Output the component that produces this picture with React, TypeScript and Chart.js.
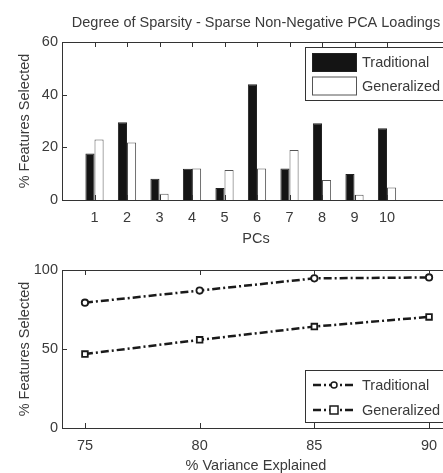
import React, { useEffect, useRef } from 'react';
import { Chart, registerables } from 'chart.js';
Chart.register(...registerables);

const pcs = [1, 2, 3, 4, 5, 6, 7, 8, 9, 10];
const traditionalPct = [17.7, 29.5, 8.1, 11.9, 4.6, 44, 12, 29.1, 9.9, 27.2];
const generalizedPct = [23, 21.8, 2.4, 12, 11.4, 12, 19, 7.6, 2, 4.7];
const barYTicks = [0, 20, 40, 60];

const varianceExplained = [75, 80, 85, 90];
const traditionalVar = [79.3, 87, 94.7, 95.3];
const generalizedVar = [46.8, 55.8, 64.2, 70.3];
const lineYTicks = [0, 50, 100];

const FONT = '"Liberation Sans", Arial, Helvetica, sans-serif';
const FS = 14.5;
const TEXT = '#3a3a3a';
const AXIS = '#333333';

const framePlugin = {
  id: 'frame',
  afterDraw(chart: any, _a: any, opts: any) {
    const { ctx, chartArea: a, scales } = chart;
    ctx.save();
    ctx.strokeStyle = AXIS;
    ctx.lineWidth = 1;
    ctx.strokeRect(Math.round(a.left) + 0.5, Math.round(a.top) + 0.5, Math.round(a.right - a.left), Math.round(a.bottom - a.top));
    const tl = 5;
    const line = (x1: number, y1: number, x2: number, y2: number) => {
      ctx.beginPath(); ctx.moveTo(x1, y1); ctx.lineTo(x2, y2); ctx.stroke();
    };
    scales.x.ticks.forEach((t: any) => {
      const px = Math.round(scales.x.getPixelForValue(t.value)) + 0.5;
      line(px, a.bottom, px, a.bottom - tl);
      line(px, a.top, px, a.top + tl);
    });
    scales.y.ticks.forEach((t: any) => {
      const py = Math.round(scales.y.getPixelForValue(t.value)) + 0.5;
      line(a.left, py, a.left + tl, py);
      line(a.right, py, a.right - tl, py);
    });
    ctx.fillStyle = TEXT;
    ctx.textAlign = 'center';
    ctx.textBaseline = 'middle';
    ctx.font = `${FS}px ${FONT}`;
    if (opts.title) ctx.fillText(opts.title, opts.titleX, opts.titleY);
    if (opts.xTitle) ctx.fillText(opts.xTitle, opts.xTitleX, opts.xTitleY);
    if (opts.yTitle) {
      ctx.save();
      ctx.translate(opts.yTitleX, (a.top + a.bottom) / 2);
      ctx.rotate(-Math.PI / 2);
      ctx.fillText(opts.yTitle, 0, 0);
      ctx.restore();
    }
    const lg = opts.legend;
    if (lg) {
      ctx.fillStyle = '#ffffff';
      ctx.fillRect(lg.x, lg.y, lg.w, lg.h);
      ctx.strokeStyle = AXIS;
      ctx.lineWidth = 1;
      ctx.strokeRect(lg.x + 0.5, lg.y + 0.5, lg.w, lg.h);
      chart.data.datasets.forEach((ds: any, i: number) => {
        const cy = lg.y + lg.firstY + i * lg.rowH;
        if (lg.kind === 'bar') {
          ctx.fillStyle = ds.backgroundColor;
          ctx.fillRect(lg.x + 7, cy - 9, 44, 18);
          ctx.strokeStyle = ds.borderColor;
          ctx.lineWidth = 1;
          ctx.strokeRect(lg.x + 7.5, cy - 8.5, 44, 18);
        } else {
          ctx.strokeStyle = ds.borderColor;
          ctx.lineWidth = ds.borderWidth;
          ctx.setLineDash(ds.borderDash);
          line(lg.x + 8, cy, lg.x + 48, cy);
          ctx.setLineDash([]);
          ctx.lineWidth = 1.5;
          ctx.fillStyle = '#ffffff';
          const mx = lg.x + 29;
          if (ds.pointStyle === 'rect') {
            ctx.fillRect(mx - 4, cy - 4, 8, 8);
            ctx.strokeRect(mx - 4, cy - 4, 8, 8);
          } else {
            ctx.beginPath(); ctx.arc(mx, cy, 3, 0, Math.PI * 2); ctx.fill(); ctx.stroke();
          }
        }
        ctx.fillStyle = TEXT;
        ctx.textAlign = 'left';
        ctx.font = `${FS}px ${FONT}`;
        ctx.fillText(ds.label, lg.x + lg.textX, cy + 1);
      });
    }
    ctx.restore();
  },
};

const tickFont = { family: FONT, size: FS };

function BarChart() {
  const ref = useRef<HTMLCanvasElement>(null);
  useEffect(() => {
    const chart = new Chart(ref.current!, {
      type: 'bar',
      data: {
        datasets: [
          {
            label: 'Traditional',
            data: pcs.map((p, i) => ({ x: p, y: traditionalPct[i] })),
            backgroundColor: '#141414',
            borderColor: '#222222',
            borderWidth: 1,
          },
          {
            label: 'Generalized',
            data: pcs.map((p, i) => ({ x: p, y: generalizedPct[i] })),
            backgroundColor: '#ffffff',
            borderColor: '#555555',
            borderWidth: 1,
          },
        ],
      },
      options: {
        responsive: false,
        animation: false,
        events: [],
        layout: { padding: { left: 0, top: 42, right: 18, bottom: 0 } },
        datasets: { bar: { categoryPercentage: 0.56, barPercentage: 1 } },
        plugins: {
          legend: { display: false },
          tooltip: { enabled: false },
          frame: {
            title: 'Degree of Sparsity - Sparse Non-Negative PCA Loadings',
            titleX: 256, titleY: 23,
            xTitle: 'PCs', xTitleX: 256, xTitleY: 239,
            yTitle: '% Features Selected', yTitleX: 25,
            legend: { kind: 'bar', x: 305, y: 47, w: 142, h: 53, firstY: 15, rowH: 23.5, textX: 57 },
          },
        } as any,
        scales: {
          x: {
            type: 'linear', min: 0, max: 12, offset: false,
            afterBuildTicks: (s: any) => { s.ticks = pcs.map((v) => ({ value: v })); },
            afterFit: (s: any) => { s.height = 45; },
            grid: { display: false, drawTicks: false }, border: { display: false },
            ticks: { font: tickFont, color: TEXT, padding: 9, maxRotation: 0, autoSkip: false, callback: (v: any) => String(v) },
          },
          y: {
            min: 0, max: 60,
            afterBuildTicks: (s: any) => { s.ticks = barYTicks.map((v) => ({ value: v })); },
            afterFit: (s: any) => { s.width = 62; },
            grid: { display: false, drawTicks: false }, border: { display: false },
            ticks: { font: tickFont, color: TEXT, padding: 4 },
          },
        },
      },
      plugins: [framePlugin],
    });
    return () => chart.destroy();
  }, []);
  return <canvas ref={ref} width={470} height={245} style={{ position: 'absolute', left: 0, top: 0 }} />;
}

function LineChart() {
  const ref = useRef<HTMLCanvasElement>(null);
  useEffect(() => {
    const dash = [8, 3, 2, 3];
    const chart = new Chart(ref.current!, {
      type: 'line',
      data: {
        datasets: [
          {
            label: 'Traditional',
            data: varianceExplained.map((v, i) => ({ x: v, y: traditionalVar[i] })),
            borderColor: '#1a1a1a', borderWidth: 2.5, borderDash: dash,
            pointStyle: 'circle', pointRadius: 3.2, pointBackgroundColor: '#ffffff',
            pointBorderColor: '#1a1a1a', pointBorderWidth: 1.8, fill: false,
          },
          {
            label: 'Generalized',
            data: varianceExplained.map((v, i) => ({ x: v, y: generalizedVar[i] })),
            borderColor: '#1a1a1a', borderWidth: 2.5, borderDash: dash,
            pointStyle: 'rect', pointRadius: 4, pointBackgroundColor: '#ffffff',
            pointBorderColor: '#1a1a1a', pointBorderWidth: 1.8, fill: false,
          },
        ],
      },
      options: {
        responsive: false,
        animation: false,
        events: [],
        layout: { padding: { left: 0, top: 25, right: 18, bottom: 0 } },
        plugins: {
          legend: { display: false },
          tooltip: { enabled: false },
          frame: {
            xTitle: '% Variance Explained', xTitleX: 256, xTitleY: 221,
            yTitle: '% Features Selected', yTitleX: 25,
            legend: { kind: 'line', x: 305, y: 125, w: 142, h: 52, firstY: 15, rowH: 25, textX: 57 },
          },
        } as any,
        scales: {
          x: {
            type: 'linear', min: 74, max: 91,
            afterBuildTicks: (s: any) => { s.ticks = varianceExplained.map((v) => ({ value: v })); },
            afterFit: (s: any) => { s.height = 45; },
            grid: { display: false, drawTicks: false }, border: { display: false },
            ticks: { font: tickFont, color: TEXT, padding: 9, maxRotation: 0, autoSkip: false },
          },
          y: {
            min: 0, max: 100,
            afterBuildTicks: (s: any) => { s.ticks = lineYTicks.map((v) => ({ value: v })); },
            afterFit: (s: any) => { s.width = 62; },
            grid: { display: false, drawTicks: false }, border: { display: false },
            ticks: { font: tickFont, color: TEXT, padding: 4 },
          },
        },
      },
      plugins: [framePlugin],
    });
    return () => chart.destroy();
  }, []);
  return <canvas ref={ref} width={470} height={228} style={{ position: 'absolute', left: 0, top: 245 }} />;
}

export default function App() {
  return (
    <div style={{ position: 'fixed', left: 0, top: 0, width: 443, height: 473, overflow: 'hidden', background: '#fff' }}>
      <BarChart />
      <LineChart />
    </div>
  );
}
